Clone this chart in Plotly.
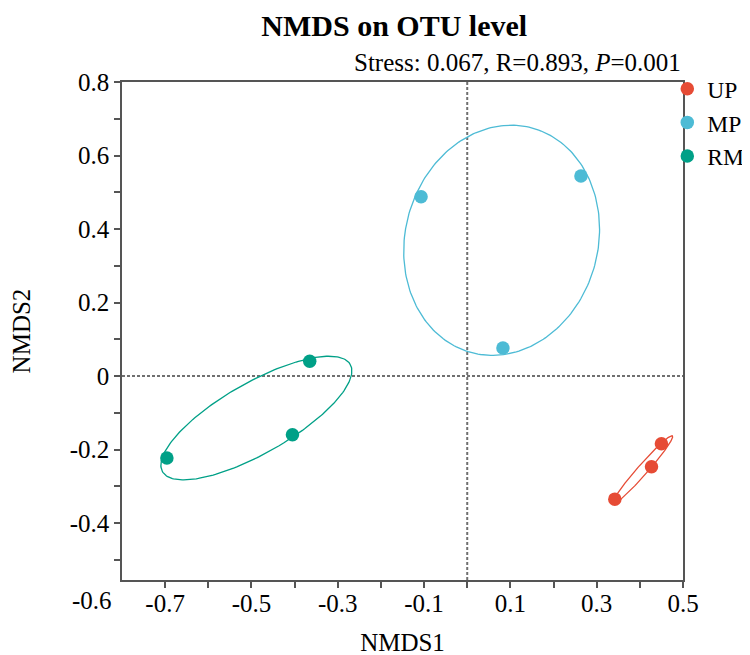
import numpy as np
import plotly.graph_objects as go

# ---- data ----
groups = ["UP", "MP", "RM"]
group_colors = ["#E64B35", "#4DBBD5", "#00A087"]

up_x = [0.450, 0.427, 0.342]
up_y = [-0.184, -0.247, -0.335]
mp_x = [-0.107, 0.2635, 0.0827]
mp_y = [0.488, 0.544, 0.076]
rm_x = [-0.365, -0.405, -0.696]
rm_y = [0.040, -0.160, -0.223]

x_tickvals = [-0.7, -0.6, -0.5, -0.4, -0.3, -0.2, -0.1, 0.0, 0.1, 0.2, 0.3, 0.4, 0.5]
x_ticktext = ["-0.7", "", "-0.5", "", "-0.3", "", "-0.1", "", "0.1", "", "0.3", "", "0.5"]
y_tickvals = [0.8, 0.7, 0.6, 0.5, 0.4, 0.3, 0.2, 0.1, 0.0, -0.1, -0.2, -0.3, -0.4, -0.5]
y_ticktext = ["0.8", "", "0.6", "", "0.4", "", "0.2", "", "0", "", "-0.2", "", "-0.4", ""]
y_bottom_label = "-0.6"

x_range = [-0.8, 0.5]
y_range = [-0.555, 0.8]

title_text = "NMDS on OTU level"
stat_text = "Stress: 0.067, R=0.893, <i>P</i>=0.001"
x_title = "NMDS1"
y_title = "NMDS2"

FONT = "Liberation Serif, Times New Roman, serif"
ELLIPSE_SCALE = 1.225


def ellipse(xs, ys, k=ELLIPSE_SCALE, n=240):
    pts = np.column_stack([xs, ys])
    c = pts.mean(axis=0)
    cov = np.cov(pts.T)
    vals, vecs = np.linalg.eigh(cov)
    t = np.linspace(0, 2 * np.pi, n)
    circ = np.stack([np.cos(t), np.sin(t)])
    e = vecs @ (np.sqrt(np.clip(vals, 0, None))[:, None] * circ) * k
    return c[0] + e[0], c[1] + e[1]


series = [(up_x, up_y), (mp_x, mp_y), (rm_x, rm_y)]

fig = go.Figure()

# ellipses
for (xs, ys), name, col in zip(series, groups, group_colors):
    ex, ey = ellipse(xs, ys)
    fig.add_trace(go.Scatter(x=ex, y=ey, mode="lines",
                             line=dict(color=col, width=1.3),
                             showlegend=False, hoverinfo="skip"))

# points
for (xs, ys), name, col in zip(series, groups, group_colors):
    fig.add_trace(go.Scatter(x=xs, y=ys, mode="markers", name=name,
                             marker=dict(color=col, size=13.5)))

# zero reference lines
fig.add_hline(y=0, line=dict(color="#707070", width=2, dash="3px,2px"), layer="below")
fig.add_vline(x=0, line=dict(color="#707070", width=2, dash="3px,2px"), layer="below")

axis_common = dict(
    showline=True, mirror=True, linecolor="#555555", linewidth=1.5,
    ticks="outside", ticklen=6, tickwidth=1.5, tickcolor="#555555",
    showgrid=False, zeroline=False, automargin=False,
    tickfont=dict(family=FONT, size=25, color="black"),
    tickmode="array",
)

fig.update_xaxes(range=x_range, tickvals=x_tickvals, ticktext=x_ticktext,
                 ticklabelstandoff=-6,
                 title=dict(text=x_title, font=dict(family=FONT, size=25, color="black"),
                            standoff=18),
                 **axis_common)
fig.update_yaxes(range=y_range, tickvals=y_tickvals, ticktext=y_ticktext,
                 title=dict(text=y_title, font=dict(family=FONT, size=25, color="black"),
                            standoff=34),
                 **axis_common)

fig.add_annotation(text=y_bottom_label, xref="paper", yref="paper", x=0, y=0,
                   xanchor="right", yanchor="middle", xshift=-8, yshift=-20,
                   showarrow=False, font=dict(family=FONT, size=25, color="black"))

fig.add_annotation(text=stat_text, xref="paper", yref="paper", x=1, y=1,
                   xanchor="right", yanchor="bottom", yshift=4,
                   showarrow=False, font=dict(family=FONT, size=25, color="black"))

fig.update_layout(
    width=750, height=655,
    margin=dict(l=114, r=75, t=74, b=83, autoexpand=False),
    paper_bgcolor="white", plot_bgcolor="white",
    title=dict(text="<b>" + title_text + "</b>", x=0.515, xanchor="center",
               y=1 - 17 / 655, yanchor="middle", yref="container",
               font=dict(family=FONT, size=30, color="black")),
    legend=dict(x=0.972, y=1.03, xanchor="left", yanchor="top",
                font=dict(family=FONT, size=23.5, color="black"),
                itemwidth=30, tracegroupgap=0, bgcolor="rgba(0,0,0,0)"),
    showlegend=True,
)

fig.write_html("out.html")
